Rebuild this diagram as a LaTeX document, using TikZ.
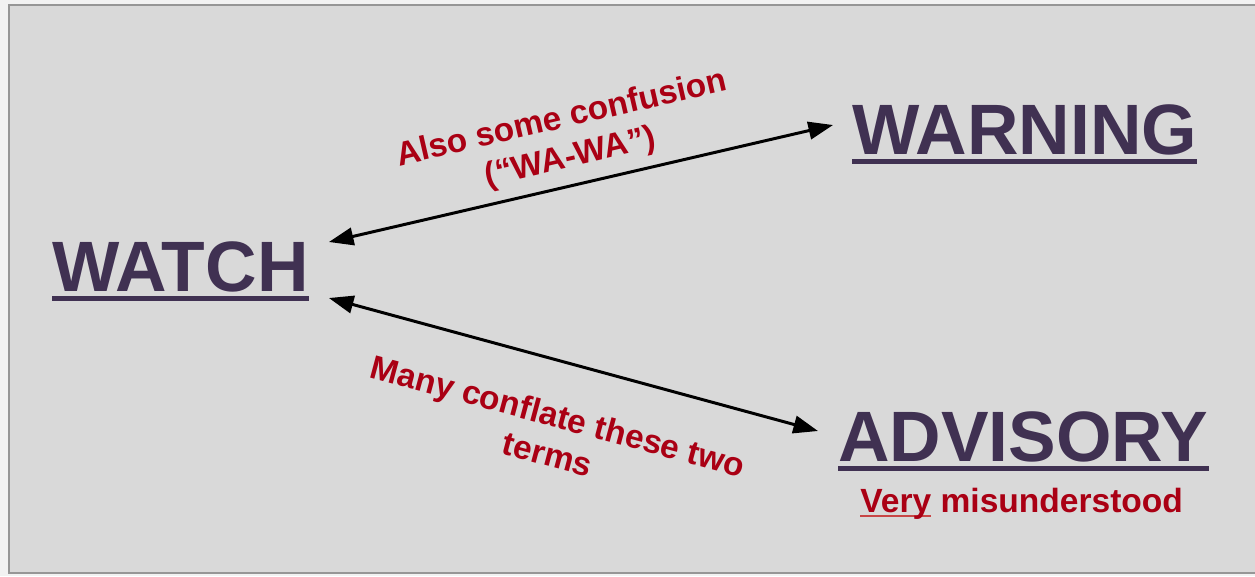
\documentclass[tikz,border=0pt]{standalone}
\usepackage{fontspec}
\setmainfont{Liberation Sans}
\usetikzlibrary{arrows.meta,calc}
\definecolor{outerbg}{RGB}{242,242,242}
\definecolor{panel}{RGB}{217,217,217}
\definecolor{framegray}{RGB}{150,150,150}
\definecolor{titlepurple}{RGB}{64,49,82}
\definecolor{labelred}{RGB}{170,0,20}
\definecolor{veryline}{RGB}{200,70,70}
\newsavebox\verybox
\begin{document}
\begin{tikzpicture}[x=0.02cm,y=-0.02cm,
  title/.style={font=\fontsize{40.6pt}{44pt}\selectfont\bfseries, text=titlepurple, inner sep=0pt, anchor=base west},
  uline/.style={draw=titlepurple, line width=2.5pt},
  lbl/.style={font=\fontsize{19pt}{22.6pt}\selectfont\bfseries, text=labelred, align=center, inner sep=0pt},
  note/.style={font=\fontsize{19.1pt}{22pt}\selectfont\bfseries, text=labelred, inner sep=0pt, anchor=base west},
  dbl/.style={{Triangle[length=14pt,width=10pt]}-{Triangle[length=14pt,width=10pt]}, line width=1.7pt, draw=black},
]
\useasboundingbox (0,0) rectangle (1255,576);
\clip (0,0) rectangle (1255,576);
\fill[outerbg] (0,0) rectangle (1255,576);
\draw[framegray, line width=1.2pt, fill=panel] (9,5) rectangle (1265,573);

% titles
\node[title] (watch) at (52,291) {WATCH};
\node[title] (warning) at (852,154) {WARNING};
\node[title] (advisory) at (838,461) {ADVISORY};

\draw[uline] ($(watch.base west)+(0,7.5)$) -- ($(watch.base east)+(0,7.5)$);
\draw[uline] ($(warning.base west)+(0,7.5)$) -- ($(warning.base east)+(0,7.5)$);
\draw[uline] ($(advisory.base west)+(0,7.5)$) -- ($(advisory.base east)+(0,7.5)$);

% note under advisory
\node[note] (very) at (860,512) {\sbox\verybox{Very}\rlap{\color{veryline}\rule[-3pt]{\wd\verybox}{1.2pt}}\usebox{\verybox} misunderstood};

% connectors
\draw[dbl] ($(watch.base east)+(20,-49)$) -- ($(warning.base west)+(-19,-29)$);
\draw[dbl] ($(watch.base east)+(20,7)$) -- ($(advisory.base west)+(-20,-30)$);

% labels
\node[lbl, rotate=13] (lbltop) at (566,139) {Also some confusion\\(“WA-WA”)};
\node[lbl, rotate=-15] (lblbot) at (553,435) {Many conflate these two\\terms};
\end{tikzpicture}
\end{document}
